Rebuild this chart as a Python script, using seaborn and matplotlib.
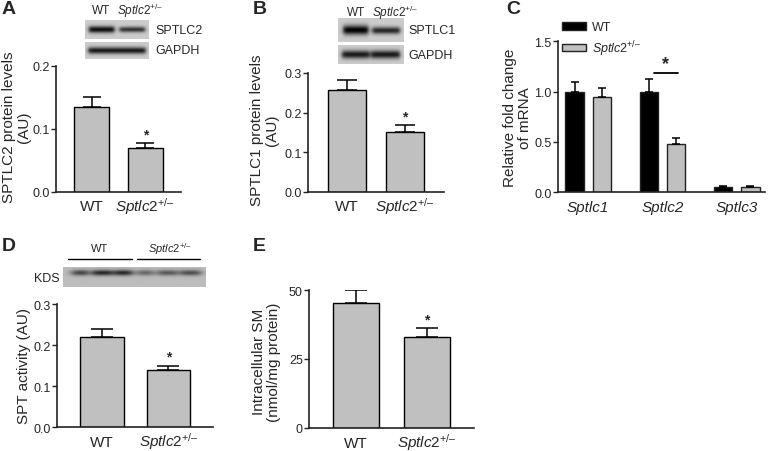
import numpy as np
import pandas as pd
import matplotlib
matplotlib.use("Agg")
import matplotlib.pyplot as plt
import seaborn as sns

sns.set_theme(style="ticks")
plt.rcParams['font.family'] = ['Liberation Sans', 'DejaVu Sans']
plt.rcParams['mathtext.fontset'] = 'custom'
plt.rcParams['mathtext.rm'] = 'Liberation Sans'
plt.rcParams['mathtext.it'] = 'Liberation Sans:italic'
plt.rcParams['mathtext.bf'] = 'Liberation Sans:bold'

# ---------------- data ----------------
KO = r"$\mathit{Sptlc2}^{\text{+/–}}$"
groups = ["WT", KO]

a_vals = [0.134, 0.070]
a_err = [0.017, 0.007]

b_vals = [0.257, 0.150]
b_err = [0.025, 0.018]

c_genes = ["Sptlc1", "Sptlc2", "Sptlc3"]
c_wt = [1.00, 1.00, 0.05]
c_wt_err = [0.093, 0.122, 0.006]
c_ko = [0.95, 0.478, 0.05]
c_ko_err = [0.086, 0.057, 0.007]
c_legend = ["WT", KO]

d_vals = [0.219, 0.139]
d_err = [0.020, 0.011]

e_vals = [45.2, 33.1]
e_err = [4.8, 3.0]

W, H = 770, 452
fig = plt.figure(figsize=(W / 100, H / 100), dpi=100)

GRAY = "#c0c0c0"
LABEL_FS = 11
TICK_FS = 9
XT_FS = 11


def add_ax(left, top, right, bottom):
    return fig.add_axes([left / W, 1 - bottom / H, (right - left) / W, (bottom - top) / H])


def set_ylabel_px(ax, text, x_right, y_center):
    ax.set_ylabel(text, fontsize=LABEL_FS, linespacing=1.05)
    ax.yaxis.set_label_coords(x_right / W, 1 - y_center / H, transform=fig.transFigure)


def style(ax, ylim, yticks, yticklabels):
    ax.set_ylim(*ylim)
    ax.set_yticks(yticks)
    ax.set_yticklabels(yticklabels, fontsize=TICK_FS)
    for s in ["top", "right"]:
        ax.spines[s].set_visible(False)
    for s in ["left", "bottom"]:
        ax.spines[s].set_linewidth(1.2)
        ax.spines[s].set_color("#222222")
    ax.tick_params(axis="y", direction="out", length=3.5, width=1.0, color="#222222", pad=1.0)
    ax.tick_params(axis="x", length=0, pad=13.5)
    ax.set_xlabel("")
    ax.set_facecolor("none")


def baseline_xticks(ax, labels, **kw):
    ax.set_xticks(range(len(labels)))
    ax.set_xticklabels(labels, fontsize=XT_FS, **kw)
    for t in ax.get_xticklabels():
        t.set_verticalalignment("baseline")


def simple_panel(rect, vals, errs, ylabel, lab_pos, ylim, yticks, yticklabels, cap,
                 xlim=(-0.67, 1.67)):
    ax = add_ax(*rect)
    df = pd.DataFrame({"group": groups, "value": vals})
    sns.barplot(data=df, x="group", y="value", color=GRAY, edgecolor="black",
                linewidth=1.0, width=0.65, errorbar=None, ax=ax, saturation=1)
    xs = np.arange(len(vals))
    ax.errorbar(xs, vals, yerr=[np.zeros(len(vals)), errs], fmt="none",
                ecolor="black", elinewidth=1.1, capsize=cap, capthick=1.1, zorder=1)
    ax.set_xlim(*xlim)
    style(ax, ylim, yticks, yticklabels)
    set_ylabel_px(ax, ylabel, *lab_pos)
    baseline_xticks(ax, groups)
    top = vals[1] + errs[1]
    span = ylim[1] - ylim[0]
    ax.text(xs[1], top + span * 0.015, "*", ha="center", va="bottom",
            fontsize=10, fontweight="bold")
    return ax


def draw_blot(rect, bands, bg=0.80):
    ax = add_ax(*rect)
    h, w = 60, 300
    yy, xx = np.mgrid[0:h, 0:w]
    xf = xx / (w - 1)
    yf = yy / (h - 1)
    img = np.full((h, w), bg)
    for (x0, x1, yc, th, dark) in bands:
        xmask = 1 / (1 + np.exp(-(xf - x0) * 60)) * 1 / (1 + np.exp((xf - x1) * 60))
        ymask = np.exp(-((yf - yc) / th) ** 2)
        img -= dark * xmask * ymask
    img = np.clip(img, 0, 1)
    ax.imshow(img, cmap="gray", vmin=0, vmax=1, aspect="auto", interpolation="bilinear")
    ax.set_axis_off()
    return ax


def ftext(x, y, s, **kw):
    fig.text(x / W, 1 - y / H, s, **kw)


# ---------------- Panel A ----------------
axA = simple_panel((56, 67, 181, 192.7), a_vals, a_err,
                   "SPTLC2 protein levels\n(AU)", (31, 127), (0, 0.2), [0, 0.1, 0.2],
                   ["0.0", "0.1", "0.2"], cap=6.5)
draw_blot((85, 21, 149, 40), [(0.06, 0.46, 0.5, 0.18, 0.75), (0.54, 0.94, 0.5, 0.15, 0.6)])
draw_blot((85, 43, 149, 60), [(0.05, 0.95, 0.5, 0.2, 0.7)])
ftext(155, 31, "SPTLC2", fontsize=9, va="center")
ftext(155, 51, "GAPDH", fontsize=9, va="center")
ftext(101, 11, "WT", fontsize=8.5, ha="center", va="center")
ftext(140, 11, KO, fontsize=8.5, ha="center", va="center")

# ---------------- Panel B ----------------
axB = simple_panel((308, 74, 444, 192.7), b_vals, b_err,
                   "SPTLC1 protein levels\n(AU)", (279, 130), (0, 0.3), [0, 0.1, 0.2, 0.3],
                   ["0.0", "0.1", "0.2", "0.3"], cap=7)
draw_blot((338, 19, 404, 43), [(0.08, 0.46, 0.5, 0.2, 0.8), (0.52, 0.94, 0.52, 0.15, 0.65)])
draw_blot((338, 46, 404, 65), [(0.06, 0.48, 0.5, 0.22, 0.7), (0.5, 0.94, 0.5, 0.22, 0.7)])
ftext(408, 31, "SPTLC1", fontsize=9, va="center")
ftext(408, 56, "GAPDH", fontsize=9, va="center")
ftext(356, 13, "WT", fontsize=8.5, ha="center", va="center")
ftext(395, 13, KO, fontsize=8.5, ha="center", va="center")

# ---------------- Panel C ----------------
axC = add_ax(557.7, 42.3, 765, 193)
dfc = pd.DataFrame({
    "gene": c_genes * 2,
    "value": c_wt + c_ko,
    "genotype": [c_legend[0]] * 3 + [c_legend[1]] * 3,
})
sns.barplot(data=dfc, x="gene", y="value", hue="genotype", hue_order=c_legend,
            palette=["black", GRAY], edgecolor="#222222", linewidth=1.0,
            width=0.73, gap=0.32, errorbar=None, ax=axC, saturation=1)
for cont, vals, errs in zip(axC.containers, [c_wt, c_ko], [c_wt_err, c_ko_err]):
    centers = [b.get_x() + b.get_width() / 2 for b in cont]
    axC.errorbar(centers, vals, yerr=[np.zeros(len(vals)), errs], fmt="none",
                 ecolor="black", elinewidth=1.1, capsize=3.2, capthick=1.1, zorder=1)
wt_c = [b.get_x() + b.get_width() / 2 for b in axC.containers[0]]
ko_c = [b.get_x() + b.get_width() / 2 for b in axC.containers[1]]
axC.plot([wt_c[1] + 0.07, ko_c[1] + 0.02], [1.18, 1.18], color="black", lw=1.3)
axC.text((wt_c[1] + ko_c[1]) / 2 + 0.04, 1.19, "*", ha="center", va="bottom",
         fontsize=13, fontweight="bold")
axC.set_xlim(-0.41, 2.38)
style(axC, (0, 1.5), [0, 0.5, 1.0, 1.5], ["0.0", "0.5", "1.0", "1.5"])
set_ylabel_px(axC, "Relative fold change\nof mRNA", 532, 118)
baseline_xticks(axC, c_genes, fontstyle="italic")
axC.legend(loc="upper left", bbox_to_anchor=(562 / W, 1 - 22 / H),
           bbox_transform=fig.transFigure, frameon=False, fontsize=9,
           handlelength=1.9, handleheight=0.6, handletextpad=0.5, labelspacing=0.4,
           borderaxespad=0, borderpad=0)

# ---------------- Panel D ----------------
axD = simple_panel((57.3, 305, 213, 428.3), d_vals, d_err,
                   "SPT activity (AU)", (31, 366), (0, 0.3), [0, 0.1, 0.2, 0.3],
                   ["0.0", "0.1", "0.2", "0.3"], cap=8)
blot_w = 205 - 63
bands = []
for (x0, x1, dk) in [(72, 88, 0.5), (92, 112, 0.6), (114, 132, 0.6),
                     (137, 153, 0.35), (157, 177, 0.4), (180, 200, 0.45)]:
    bands.append(((x0 - 63) / blot_w, (x1 - 63) / blot_w, 0.32, 0.14, dk))
draw_blot((63, 268, 205, 288), bands, bg=0.74)
ftext(47, 279, "KDS", fontsize=9, ha="center", va="center")
fig.add_artist(plt.Line2D([68 / W, 132 / W], [1 - 260 / H] * 2, color="black", lw=1.0))
fig.add_artist(plt.Line2D([137 / W, 200 / W], [1 - 260 / H] * 2, color="black", lw=1.0))
ftext(100, 249, "WT", fontsize=8, ha="center", va="center")
ftext(170, 249, KO, fontsize=8, ha="center", va="center")

# ---------------- Panel E ----------------
axE = simple_panel((309, 291, 474, 429), e_vals, e_err,
                   "Intracellular SM\n(nmol/mg protein)", (281, 362), (0, 50), [0, 25, 50],
                   ["0", "25", "50"], cap=8)

# ---------------- panel letters ----------------
for (x, y, s) in [(2, 10, "A"), (253, 10, "B"), (506, 10, "C"), (2, 247, "D"), (253, 247, "E")]:
    ftext(x, y, s, fontsize=14, fontweight="bold", va="center", ha="left")

fig.savefig("out.png", dpi=100)
